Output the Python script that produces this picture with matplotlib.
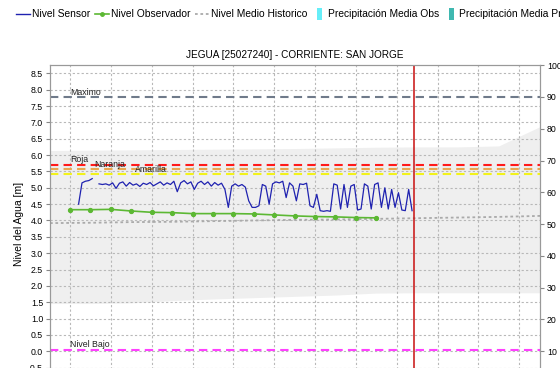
import numpy as np
import matplotlib.pyplot as plt
from matplotlib.lines import Line2D

plt.rcParams['font.family'] = ['Liberation Sans', 'DejaVu Sans']
plt.rcParams['font.size'] = 6.3

# Nivel sensor: lecturas cada 2 horas desde el dia 1 + 5h
sensor_start = 1.21
sensor_step = 1.0 / 12
sensor_level = [
    4.50, 5.15, 5.20, 5.22, 5.28, np.nan, 5.12, 5.10, 5.12, 5.08,
    5.15, 4.98, 5.14, 5.18, 5.05, 5.16, 5.08, 5.12, 5.04, 5.14,
    5.10, 5.16, 5.06, 5.12, 5.18, 5.08, 5.15, 5.10, 5.20, 4.88,
    5.15, 5.22, 5.12, 5.18, 4.95, 5.14, 5.20, 5.10, 5.18, 5.05,
    5.16, 5.08, 5.14, 4.95, 4.40, 5.05, 5.12, 5.05, 5.10, 5.02,
    4.60, 4.40, 4.40, 4.45, 5.10, 5.05, 4.50, 5.12, 5.18, 5.15,
    5.20, 4.70, 5.15, 5.05, 4.60, 5.12, 5.10, 5.14, 4.45, 4.40,
    4.80, 4.30, 4.28, 4.30, 4.28, 5.12, 5.08, 4.35, 5.10, 4.40,
    5.05, 5.10, 4.32, 4.35, 5.12, 5.05, 4.35, 5.10, 5.15, 4.40,
    5.00, 4.35, 4.95, 4.40, 4.85, 4.32, 4.30, 4.95, 4.30,
]

# Nivel observador: dos lecturas diarias
obs_days = [1.0, 1.5, 2.0, 2.5, 3.0, 3.5, 4.0, 4.5,
            5.0, 5.5, 6.0, 6.5, 7.0, 7.5, 8.0, 8.5]
obs_level = [4.33, 4.33, 4.34, 4.29, 4.25, 4.24, 4.21, 4.21,
             4.21, 4.20, 4.17, 4.14, 4.12, 4.11, 4.09, 4.08]

# Historico: nivel medio y rango min-max
hist_days = [0.51, 1.5, 2.5, 3.5, 4.5, 5.5, 6.5, 7.5, 8.5, 9.5, 10.5, 11.5, 12.51]
hist_mean = [3.92, 3.93, 3.95, 3.96, 3.98, 4.00, 4.02, 4.03, 4.05, 4.07, 4.09, 4.11, 4.14]
hist_max = [6.14, 6.15, 6.16, 6.17, 6.18, 6.19, 6.20, 6.22, 6.24, 6.25, 6.25, 6.28, 6.87]
hist_min = [1.46, 1.46, 1.48, 1.55, 1.60, 1.64, 1.68, 1.72, 1.78, 1.79, 1.79, 1.79, 1.79]

# Umbrales de alerta: nombre, nivel, color, posicion de la etiqueta
thresholds = [
    ('Maximo', 7.77, '#6f7a8a', 1.0),
    ('Roja', 5.70, '#ff1a1a', 1.0),
    ('Naranja', 5.56, '#e8a650', 1.6),
    ('Amarilla', 5.41, '#f2f21a', 2.6),
    ('Nivel Bajo', 0.04, '#ff40ff', 1.0),
]

now_day = 9.42

fig = plt.figure(figsize=(5.6, 3.68), dpi=100)
ax = fig.add_axes([0.0893, -0.041, 0.875, 0.864])

ax.fill_between(hist_days, hist_min, hist_max, color='#efefef', lw=0)
ax.plot(hist_days, hist_mean, color='#aaaaaa', lw=1.3, ls=(0, (1.5, 1.5)))

for name, val, color, x_lab in thresholds:
    ax.axhline(val, color=color, lw=1.5, ls=(0, (4, 2.5)), zorder=2)
    ax.text(x_lab, val + 0.02, name, ha='left', va='bottom', color='#222222', zorder=5)

sensor_days = sensor_start + sensor_step * np.arange(len(sensor_level))
ax.plot(sensor_days, sensor_level, color='#1f22b0', lw=0.9, zorder=4)
ax.plot(obs_days, obs_level, color='#5cb833', lw=1.2, marker='o', ms=2.8, zorder=3)

ax.axvline(now_day, color='#c81010', lw=1.1, zorder=6)

ax.set_xlim(0.51, 12.51)
ax.set_ylim(-0.972, 8.75)
ax.set_xticks(np.arange(1, 13))
ax.set_yticks(np.arange(-0.5, 8.51, 0.5))
ax.yaxis.set_major_formatter(plt.FormatStrFormatter('%.1f'))
ax.tick_params(axis='x', labelbottom=False, length=0)
ax.tick_params(axis='y', length=3, color='#888888', pad=2)
ax.grid(True, color='#b8b8b8', lw=0.8, ls=(0, (2, 2)))
ax.set_ylabel('Nivel del Agua [m]', fontsize=7.5, labelpad=3)
ax.set_title('JEGUA [25027240] - CORRIENTE: SAN JORGE', fontsize=7.2, pad=5)
for side in ['left', 'right', 'top', 'bottom']:
    ax.spines[side].set_color('#999999')

ax2 = ax.twinx()
ax2.set_ylim(0, 100)
ax2.set_yticks(np.arange(0, 101, 10))
ax2.tick_params(axis='y', length=3, color='#888888', pad=2)
for side in ['left', 'right', 'top', 'bottom']:
    ax2.spines[side].set_color('#999999')

# barras de precipitacion como rectangulos verticales estrechos
bar_marker = [(-0.4, -1), (0.4, -1), (0.4, 1), (-0.4, 1)]
handles = [
    Line2D([], [], color='#1f22b0', lw=1),
    Line2D([], [], color='#5cb833', lw=1.2, marker='o', ms=2.5),
    Line2D([], [], color='#aaaaaa', lw=1.3, ls=(0, (1.5, 1.5))),
    Line2D([], [], ls='none', marker=bar_marker, ms=9, color='#66eef8', mew=0),
    Line2D([], [], ls='none', marker=bar_marker, ms=9, color='#3fb8b0', mew=0),
]
labels = ['Nivel Sensor', 'Nivel Observador', 'Nivel Medio Historico',
          'Precipitación Media Obs', 'Precipitación Media Pronosticada']
fig.legend(handles, labels, loc='upper left', bbox_to_anchor=(0.012, 1.0),
           ncol=5, frameon=False, fontsize=7.4, handlelength=1.35,
           handletextpad=0.2, columnspacing=0.45)

fig.savefig('out.png', dpi=100)
